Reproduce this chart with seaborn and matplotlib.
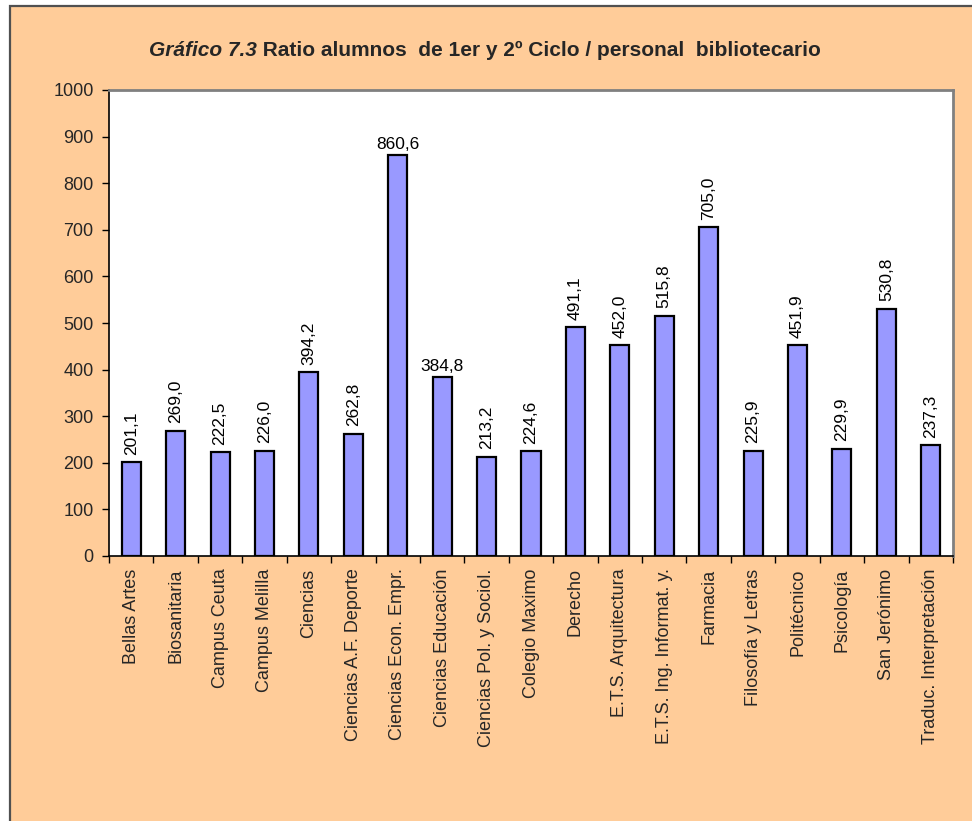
import matplotlib
matplotlib.use("Agg")
import matplotlib.pyplot as plt
from matplotlib.patches import Rectangle
from matplotlib.ticker import FixedLocator, MultipleLocator
import seaborn as sns
import pandas as pd

categorias = [
    "Bellas Artes", "Biosanitaria", "Campus Ceuta", "Campus Melilla", "Ciencias",
    "Ciencias A.F. Deporte", "Ciencias Econ. Empr.", "Ciencias Educación",
    "Ciencias Pol. y Sociol.", "Colegio Maximo", "Derecho", "E.T.S. Arquitectura",
    "E.T.S. Ing. Informat. y.", "Farmacia", "Filosofía y Letras", "Politécnico",
    "Psicología", "San Jerónimo", "Traduc. Interpretación",
]
ratio = [201.1, 269.0, 222.5, 226.0, 394.2, 262.8, 860.6, 384.8, 213.2, 224.6,
         491.1, 452.0, 515.8, 705.0, 225.9, 451.9, 229.9, 530.8, 237.3]
# etiquetas que se escriben en horizontal
horizontales = ["Ciencias Econ. Empr.", "Ciencias Educación"]

df = pd.DataFrame({"centro": categorias, "ratio": ratio})

sns.set_style("white")
plt.rcParams["font.family"] = ["Liberation Sans", "DejaVu Sans"]

W, H = 972, 821
fig = plt.figure(figsize=(W / 100, H / 100), dpi=100, facecolor="white")

# marco del gráfico
marco = Rectangle((10 / W, -0.1), 1.2, 1.1 - 6 / H, transform=fig.transFigure,
                  facecolor="#FFCC99", edgecolor="#505050", linewidth=1.6,
                  zorder=-10)
fig.add_artist(marco)

ax = fig.add_axes([109 / W, 1 - 556 / H, (953 - 109) / W, (556 - 90) / H])
ax.set_zorder(5)
ax.set_facecolor("white")

sns.barplot(data=df, x="centro", y="ratio", color="#9999FF", saturation=1,
            edgecolor="black", linewidth=1.6, width=0.43, ax=ax)

ax.set_ylim(0, 1000)
ax.set_xlim(-0.5, len(categorias) - 0.5)
ax.yaxis.set_major_locator(MultipleLocator(100))

for i, (c, v) in enumerate(zip(categorias, ratio)):
    txt = f"{v:.1f}".replace(".", ",")
    if c in horizontales:
        ax.annotate(txt, (i, v), xytext=(0, 2), textcoords="offset points",
                    ha="center", va="bottom", fontsize=12.5, color="black")
    else:
        ax.annotate(txt, (i, v), xytext=(0, 5.5), textcoords="offset points",
                    ha="center", va="bottom", rotation=90, fontsize=12.5,
                    color="black")

ax.set_xlabel("")
ax.set_ylabel("")
ax.tick_params(axis="y", which="major", direction="out", length=5, width=1,
               color="black", pad=6, labelsize=13, left=True)
ax.tick_params(axis="x", which="major", length=0, pad=9, labelsize=13)
ax.set_xticks(range(len(categorias)))
ax.set_xticklabels(categorias, rotation=90, va="top", ha="center")
ax.xaxis.set_minor_locator(FixedLocator([i - 0.5 for i in range(len(categorias) + 1)]))
ax.tick_params(axis="x", which="minor", direction="out", length=5, width=1,
               color="black", bottom=True)

for side in ["left", "bottom"]:
    ax.spines[side].set_color("black")
    ax.spines[side].set_linewidth(1.2)
for side in ["top", "right"]:
    ax.spines[side].set_visible(True)
    ax.spines[side].set_color("#808080")
    ax.spines[side].set_linewidth(2)

# título en dos partes: la primera en cursiva
y_tit = 1 - 56 / H
titulo_a = fig.text(0, y_tit, "Gráfico 7.3", fontsize=15, fontweight="bold",
                    fontstyle="italic", va="baseline")
titulo_b = fig.text(0, y_tit, " Ratio alumnos  de 1er y 2º Ciclo / personal  bibliotecario",
                    fontsize=15, fontweight="bold", va="baseline")
fig.canvas.draw()
r = fig.canvas.get_renderer()
wa = titulo_a.get_window_extent(r).width
wb = titulo_b.get_window_extent(r).width
x0 = 485 - (wa + wb) / 2
titulo_a.set_x(x0 / W)
titulo_b.set_x((x0 + wa) / W)

fig.savefig("out.png", dpi=100, facecolor=fig.get_facecolor())
